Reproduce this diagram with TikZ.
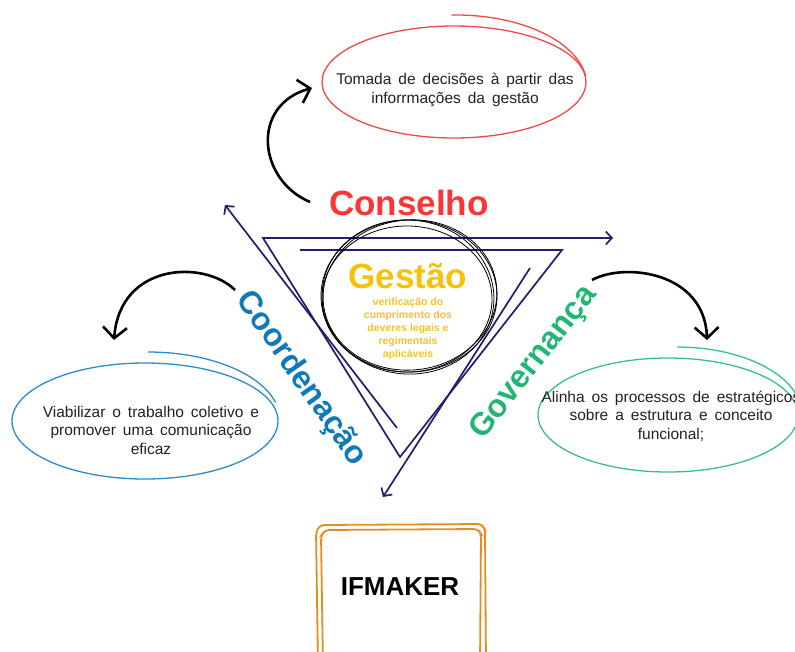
\documentclass[tikz,border=0pt]{standalone}
\usepackage{fontspec}
\setmainfont{Liberation Sans}
\usepackage{xcolor}
\usetikzlibrary{arrows.meta,positioning,calc}

\definecolor{conselhored}{HTML}{FF3535}
\definecolor{ellred}{HTML}{F04848}
\definecolor{gestaogold}{HTML}{F4C20A}
\definecolor{smallgold}{HTML}{EFC232}
\definecolor{coordblue}{HTML}{1279B8}
\definecolor{ellblue}{HTML}{2C8CC6}
\definecolor{govgreen}{HTML}{22B573}
\definecolor{ellgreen}{HTML}{38C088}
\definecolor{navyline}{HTML}{211E6C}
\definecolor{boxorange}{HTML}{E88A1E}
\definecolor{textgray}{HTML}{222222}

\begin{document}
\begin{tikzpicture}[x=1pt, y=-1pt,
    navyarrow/.style={draw=navyline, line width=1.7pt, line join=miter},
    navytip/.style={-{Straight Barb[length=6pt,width=13pt]}},
    curvearrow/.style={draw=black, line width=2.6pt, -{Straight Barb[length=11pt,width=24pt]}},
    bodytext/.style={font=\fontsize{15.5}{18.5}\selectfont, text=textgray, align=center,
        execute at begin node={\spaceskip=0.45em plus 0.1em}},
    headword/.style={font=\fontsize{35}{40}\selectfont\bfseries},
    sideword/.style={font=\fontsize{32}{36}\selectfont\bfseries},
    smalltext/.style={font=\fontsize{10.5}{13}\selectfont\bfseries, text=smallgold, align=center},
    sketch/.style={line width=1.3pt},
    boxline/.style={draw=boxorange, line width=1.8pt, rounded corners=4pt}]
    \useasboundingbox (0,0) rectangle (795,651);

    % ellipses with their texts
    \coordinate (tomadaC) at (454,82);
    \draw[sketch, ellred] (tomadaC) ellipse[x radius=132, y radius=56];
    \draw[sketch, ellred] (456,86) ++(-92:131 and 71) arc[start angle=-92, end angle=-8, x radius=131, y radius=71];
    \node[bodytext] (tomada) at (455,90) {Tomada de decisões à partir das\\inforrmações da gestão};

    \coordinate (viabC) at (145,421);
    \draw[sketch, ellblue] (viabC) ellipse[x radius=133, y radius=58];
    \draw[sketch, ellblue] (148,420) ++(-90:132 and 68) arc[start angle=-90, end angle=-15, x radius=132, y radius=68];
    \node[bodytext] (viabilizar) at (151,430) {Viabilizar o trabalho coletivo e\\promover uma comunicação\\eficaz};

    \coordinate (alinhaC) at (668,415);
    \draw[sketch, ellgreen] (alinhaC) ellipse[x radius=130, y radius=57];
    \draw[sketch, ellgreen] (677,415) ++(-90:125 and 68) arc[start angle=-90, end angle=-10, x radius=125, y radius=68];
    \node[bodytext] (alinha) at (671,416) {Alinha os processos de estratégicos\\sobre a estrutura e conceito\\funcional;};

    % triangle and arrows
    \draw[navyarrow, navytip] (300,250) -- (562,250) -- (400,457) -- (263,238) -- (613,238);
    \coordinate (leftfoot) at (397,428);
    \coordinate (lefttip) at (225,205);
    \draw[navyarrow, navytip] (leftfoot) -- (lefttip);
    \coordinate (rightfoot) at (530,268);
    \coordinate (righttip) at (383,497);
    \draw[navyarrow, navytip] (rightfoot) -- (righttip);

    % circles round Gestao
    \draw[line width=0.8pt] (409,296) ellipse[x radius=88, y radius=76];
    \draw[line width=0.8pt] (407,299) ellipse[x radius=85, y radius=73];
    \draw[line width=0.8pt, rotate around={6:(410,295)}] (410,295) ellipse[x radius=87, y radius=75];
    \draw[line width=0.8pt, rotate around={-5:(408,297)}] (408,297) ellipse[x radius=86, y radius=77];

    % words
    \node[headword, text=conselhored, anchor=base] (conselho) at (409,215) {Conselho};
    \node[headword, text=gestaogold, anchor=base] (gestao) at (408,288) {Gestão};
    \node[smalltext] (verificacao) at (408,329) {verificação do\\cumprimento dos\\deveres legais e\\regimentais\\aplicáveis};
    \node[sideword, text=coordblue, rotate=-55] (coordenacao) at (301,379) {Coordenação};
    \node[sideword, text=govgreen, rotate=52] (governanca) at (534,363) {Governança};

    % curved arrows
    \coordinate (conselhoStart) at (310,202);
    \coordinate (tomadaEnd) at (312,88);
    \draw[curvearrow] (conselhoStart) .. controls (258,180) and (250,105) .. (tomadaEnd);
    \coordinate (coordStart) at (235,290);
    \coordinate (viabEnd) at (114,340);
    \draw[curvearrow] (coordStart) .. controls (205,260) and (120,262) .. (viabEnd);
    \coordinate (govStart) at (592,280);
    \coordinate (alinhaEnd) at (707,340);
    \draw[curvearrow] (govStart) .. controls (625,262) and (705,272) .. (alinhaEnd);

    % IFMAKER box
    \draw[boxline] (318,665) -- (316,532) -- (320,525) -- (482,524) -- (485,530) -- (486,665);
    \draw[boxline] (323,665) -- (321,536) -- (325,530) -- (478,529) -- (481,534) -- (480,665);
    \node[font=\fontsize{26}{30}\selectfont\bfseries] (ifmaker) at (400,587) {IFMAKER};
\end{tikzpicture}
\end{document}
